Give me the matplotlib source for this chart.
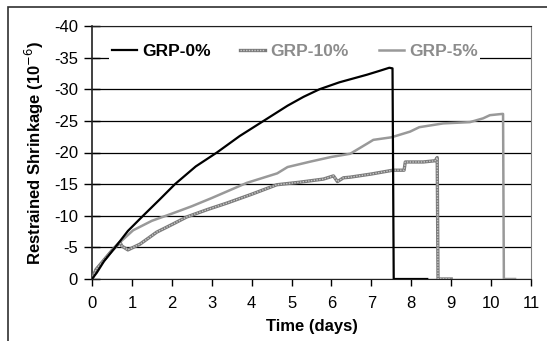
import matplotlib
matplotlib.use('Agg')
import matplotlib.pyplot as plt
from matplotlib.patches import Rectangle

plt.rcParams['font.family'] = ['Liberation Sans', 'DejaVu Sans']
plt.rcParams['axes.unicode_minus'] = False

# time (days) / restrained shrinkage (10^-6)
t0 = [0, 0.12, 0.3, 0.58, 0.9, 1.28, 1.7, 2.08, 2.6, 3.13, 3.7, 4.3, 4.9, 5.3, 5.7, 6.2, 6.89, 7.2, 7.45, 7.53, 7.56, 8.0, 8.4]
v0 = [0, -1.0, -2.8, -5.0, -7.6, -10.0, -12.6, -15.0, -17.8, -20.0, -22.6, -25.0, -27.4, -28.8, -30.0, -31.1, -32.3, -32.9, -33.4, -33.3, 0, 0, 0]

t10 = [0, 0.1, 0.3, 0.5, 0.7, 0.75, 0.9, 1.2, 1.62, 2.0, 2.37, 2.9, 3.38, 4.0, 4.63, 5.2, 5.8, 6.05, 6.15, 6.3, 6.47, 7.0, 7.54, 7.82, 7.85, 8.3, 8.6, 8.65, 8.67, 9.0]
v10 = [0, -1.5, -3.0, -4.5, -5.8, -5.2, -4.6, -5.5, -7.4, -8.6, -9.8, -11.0, -12.0, -13.4, -14.9, -15.3, -15.8, -16.3, -15.4, -16.0, -16.1, -16.6, -17.2, -17.2, -18.5, -18.5, -18.7, -19.2, 0, 0]

t5 = [0, 0.1, 0.3, 0.5, 0.7, 1.03, 1.5, 2.03, 2.5, 3.0, 3.88, 4.64, 4.9, 5.5, 6.0, 6.47, 6.92, 7.05, 7.5, 7.97, 8.2, 8.8, 9.47, 9.8, 9.97, 10.28, 10.3, 10.32, 10.6]
v5 = [0, -1.5, -3.0, -4.5, -5.8, -7.7, -9.2, -10.4, -11.5, -12.8, -15.2, -16.7, -17.7, -18.6, -19.3, -19.8, -21.5, -22.0, -22.4, -23.3, -24.0, -24.6, -24.8, -25.4, -25.9, -26.1, -26.1, 0, 0]

xticks = list(range(0, 12))
yticks = [0, -5, -10, -15, -20, -25, -30, -35, -40]

fig = plt.figure(figsize=(5.47, 3.41), dpi=100)
# outer chart frame
fig.patches.append(Rectangle((8 / 547, -0.2), 1.2, 1 - 7 / 341 + 0.2,
                             transform=fig.transFigure, fill=False,
                             edgecolor='#303030', lw=1.2))

ax = fig.add_axes([92 / 547, 1 - 279 / 341, (531 - 92) / 547, (279 - 26) / 341])

ax.plot(t0, v0, color='black', lw=1.6, zorder=4)
ax.plot(t10, v10, color='#7a7a7a', lw=2.4, zorder=3)
ax.plot(t10, v10, color='#c8c8c8', lw=1.0, ls=(0, (1, 1)), zorder=3)
ax.plot(t5, v5, color='#999999', lw=1.8, zorder=2)

ax.set_xlim(0, 11)
ax.set_ylim(0, -40)
ax.set_xticks(xticks)
ax.set_yticks(yticks)
ax.grid(axis='y', color='black', lw=0.9)
ax.set_axisbelow(True)
ax.tick_params(axis='y', direction='inout', length=12, width=1, labelsize=12, pad=4)
ax.tick_params(axis='x', direction='out', length=5, width=1, labelsize=12, pad=7)
for s in ['left', 'bottom', 'top']:
    ax.spines[s].set_color('#202020')
ax.spines['right'].set_color('#808080')
ax.spines['left'].set_linewidth(1.2)

ax.set_xlabel('Time (days)', fontsize=12, fontweight='bold', labelpad=6)
ax.set_ylabel('Restrained Shrinkage (10$^{-6}$)', fontsize=12, fontweight='bold', labelpad=6)

# legend handles
h0, = ax.plot([], [], color='black', lw=1.6)
h10a, = ax.plot([], [], color='#7a7a7a', lw=2.4)
h10b, = ax.plot([], [], color='#c8c8c8', lw=1.0, ls=(0, (1, 1)))
h5, = ax.plot([], [], color='#999999', lw=1.8)
leg = ax.legend([h0, (h10a, h10b), h5], ['GRP-0%', 'GRP-10%', 'GRP-5%'],
                ncol=3, loc='upper left', bbox_to_anchor=(0.039, 0.938),
                frameon=True, facecolor='white', edgecolor='white', framealpha=1,
                prop={'weight': 'bold', 'size': 12.5}, handlelength=1.45,
                handletextpad=0.3, columnspacing=1.7, borderpad=0.15,
                borderaxespad=0)
leg.get_frame().set_linewidth(0)
for txt, c in zip(leg.get_texts(), ['black', '#8c8c8c', '#8c8c8c']):
    txt.set_color(c)

fig.savefig('out.png', dpi=100)
